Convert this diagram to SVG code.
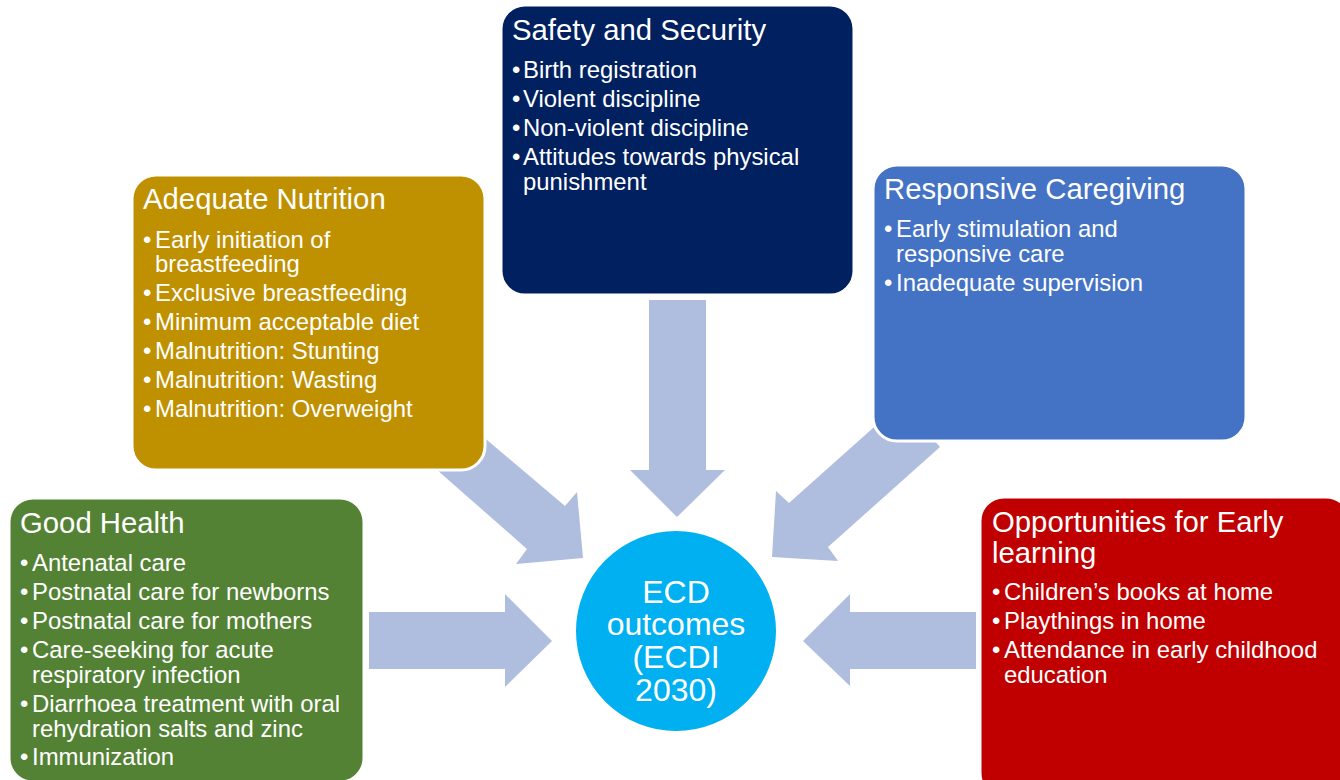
<svg xmlns="http://www.w3.org/2000/svg" width="1340" height="780" viewBox="0 0 1340 780">
<style>
.box{stroke:#ffffff;stroke-width:3}
.arrow{fill:#AFBDDF}
text{font-family:"Liberation Sans",Arial,sans-serif;fill:#ffffff}
.t{font-size:29.3px}
.b{font-size:23.9px}
.c{font-size:32px;text-anchor:middle}
</style>
<rect width="1340" height="780" fill="#ffffff"/>
<g id="connectors">
<polygon class="arrow" points="649,300 706,300 706,470 725,470 677,517 630,470 649,470"/>
<polygon class="arrow" points="369,612 505,612 505,594 552,641 505,687 505,669 369,669"/>
<polygon class="arrow" points="976,612 850,612 850,594 803,641 850,686 850,669 976,669"/>
<polygon class="arrow" points="474,429 565,506 577,492 583,558 516,564 527,549 428,462"/>
<polygon class="arrow" points="940,447 828,547 838,561 772,557 776,491 789,503 901,403"/>
</g>
<g id="safety">
<rect class="box" x="501" y="5" width="353" height="290" rx="24" fill="#002060"/>
<text class="t" x="512" y="40">Safety and Security</text>
<text class="b"><tspan x="512" y="78">•</tspan><tspan x="523" y="78">Birth registration</tspan><tspan x="512" y="107">•</tspan><tspan x="523" y="107">Violent discipline</tspan><tspan x="512" y="136">•</tspan><tspan x="523" y="136">Non-violent discipline</tspan><tspan x="512" y="165">•</tspan><tspan x="523" y="165">Attitudes towards physical</tspan><tspan x="523" y="190">punishment</tspan></text>
</g>
<g id="nutrition">
<rect class="box" x="132" y="175" width="353" height="295" rx="24" fill="#BF9000"/>
<text class="t" x="143" y="209">Adequate Nutrition</text>
<text class="b"><tspan x="143" y="248">•</tspan><tspan x="155" y="248">Early initiation of</tspan><tspan x="155" y="272">breastfeeding</tspan><tspan x="143" y="301">•</tspan><tspan x="155" y="301">Exclusive breastfeeding</tspan><tspan x="143" y="330">•</tspan><tspan x="155" y="330">Minimum acceptable diet</tspan><tspan x="143" y="359">•</tspan><tspan x="155" y="359">Malnutrition: Stunting</tspan><tspan x="143" y="388">•</tspan><tspan x="155" y="388">Malnutrition: Wasting</tspan><tspan x="143" y="417">•</tspan><tspan x="155" y="417">Malnutrition: Overweight</tspan></text>
</g>
<g id="caregiving">
<rect class="box" x="873" y="165" width="373" height="276" rx="24" fill="#4472C4"/>
<text class="t" x="884" y="199">Responsive Caregiving</text>
<text class="b"><tspan x="884" y="237">•</tspan><tspan x="896" y="237">Early stimulation and</tspan><tspan x="896" y="262">responsive care</tspan><tspan x="884" y="291">•</tspan><tspan x="896" y="291">Inadequate supervision</tspan></text>
</g>
<g id="health">
<rect class="box" x="9" y="498" width="355" height="284" rx="24" fill="#548235"/>
<text class="t" x="20" y="533">Good Health</text>
<text class="b"><tspan x="20" y="571">•</tspan><tspan x="32" y="571">Antenatal care</tspan><tspan x="20" y="600">•</tspan><tspan x="32" y="600">Postnatal care for newborns</tspan><tspan x="20" y="629">•</tspan><tspan x="32" y="629">Postnatal care for mothers</tspan><tspan x="20" y="658">•</tspan><tspan x="32" y="658">Care-seeking for acute</tspan><tspan x="32" y="683">respiratory infection</tspan><tspan x="20" y="712">•</tspan><tspan x="32" y="712">Diarrhoea treatment with oral</tspan><tspan x="32" y="737">rehydration salts and zinc</tspan><tspan x="20" y="765">•</tspan><tspan x="32" y="765">Immunization</tspan></text>
</g>
<g id="learning">
<rect class="box" x="980" y="497" width="370" height="300" rx="24" fill="#C00000"/>
<text class="t"><tspan x="992" y="532">Opportunities for Early</tspan><tspan x="992" y="563">learning</tspan></text>
<text class="b"><tspan x="992" y="600">•</tspan><tspan x="1004" y="600">Children’s books at home</tspan><tspan x="992" y="629">•</tspan><tspan x="1004" y="629">Playthings in home</tspan><tspan x="992" y="658">•</tspan><tspan x="1004" y="658">Attendance in early childhood</tspan><tspan x="1004" y="683">education</tspan></text>
</g>
<g id="outcomes">
<circle cx="676" cy="631" r="101" fill="#00B0F0" stroke="#ffffff" stroke-width="2"/>
<text class="c"><tspan x="676" y="603">ECD</tspan><tspan x="676" y="635">outcomes</tspan><tspan x="676" y="668">(ECDI</tspan><tspan x="676" y="701">2030)</tspan></text>
</g>
</svg>
